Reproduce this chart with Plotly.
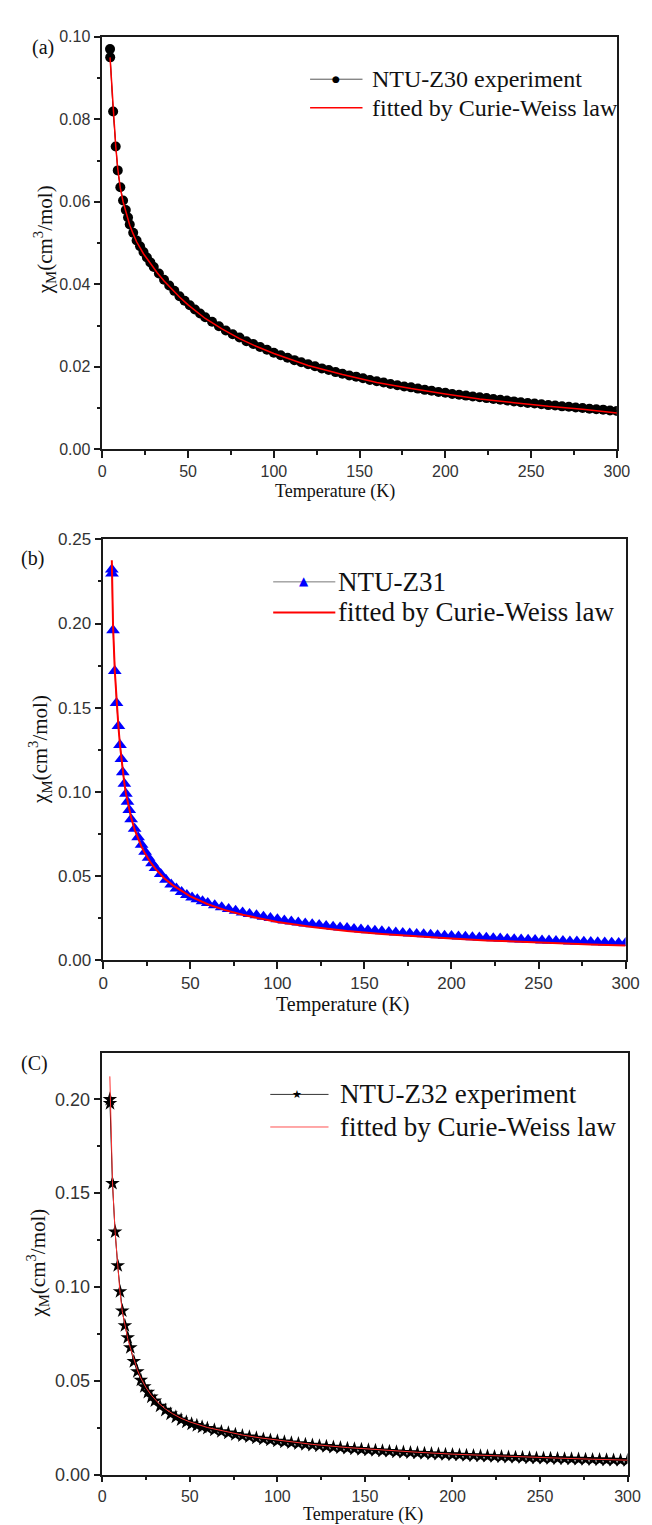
import plotly.graph_objects as go

W, H = 652, 1525

# ---------------- data ----------------
temp_grid = [16, 18, 20, 22, 24, 26, 28, 30, 33, 36, 39, 42, 45, 48, 51, 54, 57,
             60, 64, 68, 72, 76, 80, 84, 88, 92, 96, 100, 104, 108, 112, 116, 120,
             124, 128, 132, 136, 140, 144, 148, 152, 156, 160, 164, 168, 172, 176,
             180, 184, 188, 192, 196, 200, 204, 208, 212, 216, 220, 224, 228, 232,
             236, 240, 244, 248, 252, 256, 260, 264, 268, 272, 276, 280, 284, 288,
             292, 296, 300]

# (a) NTU-Z30
temp_a_low = [4.5, 4.6, 6.3, 7.8, 9.0, 10.5, 12.1, 13.7, 15.0]
chi_a_low = [0.0970, 0.0950, 0.0819, 0.0734, 0.0676, 0.0635, 0.0603, 0.0580, 0.0562]
chi_a_grid = [0.0545, 0.0525, 0.0506, 0.0492, 0.0478, 0.0465, 0.0453, 0.0442, 0.0426,
              0.0411, 0.0397, 0.0384, 0.0371, 0.0360, 0.0349, 0.0339, 0.0329,
              0.0320, 0.0309, 0.0298, 0.0288, 0.0279, 0.0271, 0.0262, 0.0255, 0.0248,
              0.0241, 0.0234, 0.0228, 0.0222, 0.0216, 0.0211, 0.0206,
              0.0201, 0.0196, 0.0192, 0.0187, 0.0183, 0.0179, 0.0176, 0.0172, 0.0168,
              0.0165, 0.0162, 0.0158, 0.0155, 0.0152,
              0.0150, 0.0147, 0.0144, 0.0142, 0.0139, 0.0137, 0.0134, 0.0132, 0.0130,
              0.0128, 0.0126, 0.0124, 0.0122, 0.0120,
              0.0118, 0.0116, 0.0114, 0.0112, 0.0111, 0.0109, 0.0107, 0.0106, 0.0104,
              0.0103, 0.0101, 0.0100, 0.0098, 0.0097,
              0.0096, 0.0094, 0.0093]
fit_a_temp = [4.5, 6.3, 7.8, 9.0, 10.5, 12.1, 13.7, 15, 16, 18, 20, 24, 28, 32, 36, 40,
              45, 50, 60, 70, 80, 90, 100, 120, 140, 160, 180, 200, 220, 240, 260,
              280, 300]
fit_a_chi = [0.0950, 0.0822, 0.0736, 0.0680, 0.0633, 0.0600, 0.0575, 0.0557, 0.0543,
             0.0522, 0.0503, 0.0474, 0.0450, 0.0428, 0.0408, 0.0390, 0.0369, 0.0350,
             0.0317, 0.0291, 0.0268, 0.0249, 0.0232, 0.0203, 0.0181, 0.0162, 0.0147,
             0.0134, 0.0122, 0.0113, 0.0104, 0.0097, 0.0088]

# (b) NTU-Z31
temp_b_low = [4.9, 5.0, 5.6, 6.6, 7.6, 8.7, 9.6, 10.4, 11.2, 12.1, 13.0, 13.9, 14.9]
chi_b_low = [0.2321, 0.2298, 0.1960, 0.1717, 0.1528, 0.1390, 0.1277, 0.1194, 0.1116,
             0.1047, 0.0988, 0.0940, 0.0891]
chi_b_grid = [0.0836, 0.0780, 0.0729, 0.0684, 0.0643, 0.0607, 0.0575, 0.0547, 0.0510,
              0.0476, 0.0448, 0.0425, 0.0404, 0.0386, 0.0371, 0.0360, 0.0349,
              0.0338, 0.0325, 0.0313, 0.0302, 0.0292, 0.0282, 0.0273, 0.0265, 0.0257,
              0.0249, 0.0242, 0.0235, 0.0229, 0.0223, 0.0217, 0.0212,
              0.0207, 0.0202, 0.0197, 0.0193, 0.0189, 0.0184, 0.0181, 0.0177, 0.0173,
              0.0170, 0.0166, 0.0163, 0.0160, 0.0157,
              0.0154, 0.0152, 0.0149, 0.0146, 0.0144, 0.0142, 0.0139, 0.0137, 0.0135,
              0.0133, 0.0131, 0.0129, 0.0127, 0.0125,
              0.0123, 0.0121, 0.0120, 0.0118, 0.0116, 0.0115, 0.0113, 0.0112, 0.0110,
              0.0109, 0.0108, 0.0106, 0.0105, 0.0104,
              0.0102, 0.0101, 0.0100]
fit_b_temp = [4.9, 5.6, 6.6, 7.6, 8.7, 9.6, 10.4, 11.2, 12.1, 13, 14, 15, 16, 18, 20,
              22, 24, 27, 30, 35, 40, 45, 50, 60, 70, 80, 90, 100, 120, 140, 160, 180,
              200, 220, 240, 260, 280, 300]
fit_b_chi = [0.2376, 0.1990, 0.1720, 0.1530, 0.1385, 0.1275, 0.1190, 0.1118, 0.1050,
             0.0990, 0.0938, 0.0890, 0.0846, 0.0775, 0.0718, 0.0672, 0.0632, 0.0582,
             0.0541, 0.0486, 0.0443, 0.0408, 0.0378, 0.0331, 0.0296, 0.0268, 0.0245,
             0.0225, 0.0195, 0.0172, 0.0154, 0.0139, 0.0127, 0.0116, 0.0107, 0.0099,
             0.0092, 0.0086]

# (c) NTU-Z32
temp_c_low = [4.3, 4.4, 5.8, 7.3, 8.8, 10.1, 11.4, 12.9, 14.5]
chi_c_low = [0.2000, 0.1978, 0.1552, 0.1294, 0.1114, 0.0975, 0.0873, 0.0794, 0.0730]
chi_c_grid = [0.0677, 0.0603, 0.0549, 0.0504, 0.0469, 0.0439, 0.0414, 0.0393, 0.0365,
              0.0343, 0.0323, 0.0307, 0.0292, 0.0280, 0.0270, 0.0262, 0.0254,
              0.0247, 0.0238, 0.0229, 0.0222, 0.0214, 0.0207, 0.0201, 0.0195, 0.0189,
              0.0184, 0.0179, 0.0174, 0.0169, 0.0165, 0.0161, 0.0157,
              0.0153, 0.0150, 0.0146, 0.0143, 0.0140, 0.0137, 0.0134, 0.0131, 0.0129,
              0.0126, 0.0124, 0.0121, 0.0119, 0.0117,
              0.0115, 0.0113, 0.0111, 0.0109, 0.0107, 0.0106, 0.0104, 0.0102, 0.0101,
              0.0099, 0.0098, 0.0096, 0.0095, 0.0093,
              0.0092, 0.0091, 0.0089, 0.0088, 0.0087, 0.0086, 0.0085, 0.0084, 0.0083,
              0.0082, 0.0081, 0.0080, 0.0079, 0.0078,
              0.0077, 0.0076, 0.0075]
fit_c_temp = [4.3, 5.0, 5.8, 7.3, 8.8, 10, 11.4, 13, 14.5, 16, 18, 20, 22, 25, 28, 32,
              36, 40, 45, 50, 60, 70, 80, 90, 100, 120, 140, 160, 180, 200, 220, 240,
              260, 280, 300]
fit_c_chi = [0.2122, 0.1800, 0.1560, 0.1295, 0.1110, 0.0978, 0.0870, 0.0786, 0.0725,
             0.0676, 0.0610, 0.0558, 0.0514, 0.0463, 0.0423, 0.0382, 0.0350, 0.0325,
             0.0300, 0.0281, 0.0251, 0.0229, 0.0211, 0.0196, 0.0183, 0.0161, 0.0144,
             0.0130, 0.0119, 0.0109, 0.0101, 0.0094, 0.0088, 0.0082, 0.0077]

labels = ["NTU-Z30 experiment", "NTU-Z31", "NTU-Z32 experiment"]
fit_label = "fitted by Curie-Weiss law"
x_ticks = [0, 50, 100, 150, 200, 250, 300]

# ---------------- helpers for layout positions ----------------
def px(x):
    return x / W

def py(y):
    return 1 - y / H

SERIF = "Liberation Serif, Times New Roman, serif"
SANS = "Liberation Sans, Arial, sans-serif"
AX = "#1a1a1a"

fig = go.Figure()

# (a)
fig.add_trace(go.Scatter(x=temp_a_low + temp_grid, y=chi_a_low + chi_a_grid,
                         mode="lines+markers", name=labels[0], showlegend=False,
                         line=dict(color="#000000", width=1),
                         marker=dict(symbol="circle", size=10, color="#000000"),
                         xaxis="x", yaxis="y"))
fig.add_trace(go.Scatter(x=fit_a_temp, y=fit_a_chi, mode="lines", name=fit_label,
                         showlegend=False, line=dict(color="#ff0000", width=1.5),
                         xaxis="x", yaxis="y"))
# (b)
fig.add_trace(go.Scatter(x=temp_b_low + temp_grid, y=chi_b_low + chi_b_grid,
                         mode="lines+markers", name=labels[1], showlegend=False,
                         line=dict(color="#555555", width=1),
                         marker=dict(symbol="triangle-up", size=12, color="#0000ff"),
                         xaxis="x2", yaxis="y2"))
fig.add_trace(go.Scatter(x=fit_b_temp, y=fit_b_chi, mode="lines", name=fit_label,
                         showlegend=False, line=dict(color="#ff0000", width=2),
                         xaxis="x2", yaxis="y2"))
# (c)
fig.add_trace(go.Scatter(x=temp_c_low + temp_grid, y=chi_c_low + chi_c_grid,
                         mode="lines+markers", name=labels[2], showlegend=False,
                         line=dict(color="#000000", width=1),
                         marker=dict(symbol="star", size=11, color="#000000"),
                         xaxis="x3", yaxis="y3"))
fig.add_trace(go.Scatter(x=fit_c_temp, y=fit_c_chi, mode="lines", name=fit_label,
                         showlegend=False, line=dict(color="#ff3030", width=1),
                         xaxis="x3", yaxis="y3"))


def xaxis(dom, fs, tl=7):
    return dict(domain=[px(dom[0]), px(dom[1])], range=[0, 300], tickvals=x_ticks,
                showline=True, mirror=True, linecolor=AX, linewidth=1.5,
                ticks="outside", ticklen=tl, tickwidth=1.5, tickcolor=AX,
                ticklabelstandoff=0,
                minor=dict(ticks="outside", ticklen=4, tickwidth=1.5, tickcolor=AX,
                           dtick=25, tick0=0, showgrid=False),
                showgrid=False, zeroline=False,
                tickfont=dict(family=SANS, size=fs, color="#333333"))


def yaxis(dom, rng, dt, fs, anchor):
    return dict(domain=[py(dom[1]), py(dom[0])], range=rng, dtick=dt, tick0=0,
                tickformat=".2f", anchor=anchor,
                showline=True, mirror=True, linecolor=AX, linewidth=1.5,
                ticks="outside", ticklen=7, tickwidth=1.5, tickcolor=AX,
                minor=dict(ticks="outside", ticklen=4, tickwidth=1.5, tickcolor=AX,
                           dtick=dt / 2, tick0=0, showgrid=False),
                showgrid=False, zeroline=False,
                tickfont=dict(family=SANS, size=fs, color="#333333"))


fig.update_layout(
    width=W, height=H, autosize=False,
    margin=dict(l=0, r=0, t=0, b=0),
    paper_bgcolor="white", plot_bgcolor="white",
    showlegend=False,
    xaxis=dict(xaxis((92, 622), 16), anchor="y"),
    yaxis=yaxis((20, 437.7), [0, 0.10], 0.02, 16, "x"),
    xaxis2=dict(xaxis((93, 631), 17), anchor="y2"),
    yaxis2=yaxis((529, 954.8), [0, 0.25], 0.05, 17, "x2"),
    xaxis3=dict(xaxis((92, 633), 16, 6), anchor="y3"),
    yaxis3=yaxis((1049, 1476), [0, 0.2247], 0.05, 18, "x3"),
)

ann = []
shapes = []


def text(x, y, s, size, color="#111111", family=SERIF, xanchor="center", angle=0):
    ann.append(dict(x=px(x), y=py(y), xref="paper", yref="paper", text=s,
                    showarrow=False, xanchor=xanchor, yanchor="middle",
                    textangle=angle,
                    font=dict(family=family, size=size, color=color)))


def seg(x0, x1, y, color, width):
    shapes.append(dict(type="line", xref="paper", yref="paper",
                       x0=px(x0), x1=px(x1), y0=py(y), y1=py(y),
                       line=dict(color=color, width=width)))


ytitle = "χ<sub>M</sub>(cm<sup>3</sup>/mol)"

# panel labels
text(31, 31, "(a)", 20)
text(20, 548, "(b)", 20)
text(22, 1060, "(C)", 20)

# axis titles
text(332, 480, "Temperature (K)", 18)
text(340, 1000, "Temperature (K)", 20)
text(360, 1516, "Temperature (K)", 18)
text(32, 226, ytitle, 21, angle=-90)
text(28, 742, ytitle, 21, angle=-90)
text(25, 1262, ytitle, 21, angle=-90)

# legend (a)
seg(306, 360, 63, "#555555", 1)
text(333, 63, "●", 9, color="#000000", family="DejaVu Sans")
text(368, 63, labels[0], 24, xanchor="left")
seg(306, 360, 92, "#ff0000", 1.5)
text(368, 92, fit_label, 24, xanchor="left")

# legend (b)
seg(268, 332, 572, "#777777", 1)
text(300, 571, "▲", 12, color="#0000ff", family="DejaVu Sans")
text(333, 572, labels[1], 27, xanchor="left")
seg(268, 332, 603, "#ff0000", 2)
text(333, 603, fit_label, 27, xanchor="left")

# legend (c)
seg(265, 325, 1091, "#333333", 1)
text(293, 1091, "★", 11, color="#000000", family="DejaVu Sans")
text(335, 1091, labels[2], 27, xanchor="left")
seg(265, 325, 1124, "#ff5050", 1)
text(335, 1124, fit_label, 27, xanchor="left")

fig.update_layout(annotations=ann, shapes=shapes)

fig.write_html("out.html")
